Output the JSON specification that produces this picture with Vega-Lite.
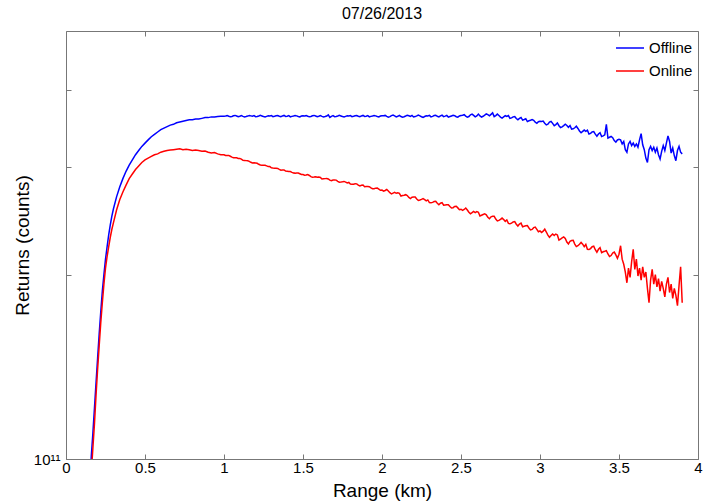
{
  "$schema": "https://vega.github.io/schema/vega-lite/v6.json",
  "width": 632,
  "height": 428,
  "autosize": "none",
  "padding": {"left": 66, "top": 31, "right": 5, "bottom": 45},
  "background": "white",
  "config": {
    "font": "Liberation Sans",
    "view": {"stroke": "#777777", "strokeWidth": 1},
    "axis": {"grid": false, "domain": false, "tickColor": "#777777", "labelColor": "#000000", "titleColor": "#000000", "labelFont": "Liberation Sans", "titleFont": "Liberation Sans"}
  },
  "title": {"text": "07/26/2013", "fontSize": 16, "fontWeight": "normal", "color": "#000000", "font": "Liberation Sans", "offset": 9},
  "data": {
    "values": [
      {"range": 0.15, "Offline": 0.90e11, "Online": 0.84e11},
      {"range": 0.16, "Offline": 1.01e11, "Online": 0.95e11},
      {"range": 0.17, "Offline": 1.10e11, "Online": 1.04e11},
      {"range": 0.18, "Offline": 1.21e11, "Online": 1.14e11},
      {"range": 0.19, "Offline": 1.33e11, "Online": 1.27e11},
      {"range": 0.20, "Offline": 1.46e11, "Online": 1.40e11},
      {"range": 0.21, "Offline": 1.60e11, "Online": 1.53e11},
      {"range": 0.22, "Offline": 1.74e11, "Online": 1.67e11},
      {"range": 0.23, "Offline": 1.88e11, "Online": 1.80e11},
      {"range": 0.24, "Offline": 2.00e11, "Online": 1.93e11},
      {"range": 0.25, "Offline": 2.12e11, "Online": 2.05e11},
      {"range": 0.26, "Offline": 2.22e11, "Online": 2.14e11},
      {"range": 0.27, "Offline": 2.32e11, "Online": 2.22e11},
      {"range": 0.28, "Offline": 2.41e11, "Online": 2.30e11},
      {"range": 0.29, "Offline": 2.49e11, "Online": 2.37e11},
      {"range": 0.30, "Offline": 2.56e11, "Online": 2.43e11},
      {"range": 0.32, "Offline": 2.68e11, "Online": 2.55e11},
      {"range": 0.34, "Offline": 2.78e11, "Online": 2.65e11},
      {"range": 0.36, "Offline": 2.87e11, "Online": 2.73e11},
      {"range": 0.38, "Offline": 2.95e11, "Online": 2.80e11},
      {"range": 0.40, "Offline": 3.02e11, "Online": 2.87e11},
      {"range": 0.42, "Offline": 3.08e11, "Online": 2.92e11},
      {"range": 0.44, "Offline": 3.14e11, "Online": 2.97e11},
      {"range": 0.46, "Offline": 3.19e11, "Online": 3.01e11},
      {"range": 0.48, "Offline": 3.24e11, "Online": 3.05e11},
      {"range": 0.50, "Offline": 3.28e11, "Online": 3.08e11},
      {"range": 0.52, "Offline": 3.32e11, "Online": 3.10e11},
      {"range": 0.54, "Offline": 3.36e11, "Online": 3.12e11},
      {"range": 0.56, "Offline": 3.39e11, "Online": 3.14e11},
      {"range": 0.58, "Offline": 3.42e11, "Online": 3.15e11},
      {"range": 0.60, "Offline": 3.45e11, "Online": 3.17e11},
      {"range": 0.62, "Offline": 3.47e11, "Online": 3.18e11},
      {"range": 0.64, "Offline": 3.49e11, "Online": 3.19e11},
      {"range": 0.66, "Offline": 3.51e11, "Online": 3.195e11},
      {"range": 0.68, "Offline": 3.52e11, "Online": 3.20e11},
      {"range": 0.70, "Offline": 3.54e11, "Online": 3.205e11},
      {"range": 0.72, "Offline": 3.55e11, "Online": 3.21e11},
      {"range": 0.74, "Offline": 3.56e11, "Online": 3.20e11},
      {"range": 0.76, "Offline": 3.57e11, "Online": 3.205e11},
      {"range": 0.78, "Offline": 3.58e11, "Online": 3.20e11},
      {"range": 0.80, "Offline": 3.58e11, "Online": 3.19e11},
      {"range": 0.82, "Offline": 3.59e11, "Online": 3.195e11},
      {"range": 0.84, "Offline": 3.59e11, "Online": 3.19e11},
      {"range": 0.86, "Offline": 3.60e11, "Online": 3.18e11},
      {"range": 0.88, "Offline": 3.61e11, "Online": 3.185e11},
      {"range": 0.90, "Offline": 3.61e11, "Online": 3.17e11},
      {"range": 0.92, "Offline": 3.62e11, "Online": 3.16e11},
      {"range": 0.94, "Offline": 3.62e11, "Online": 3.165e11},
      {"range": 0.96, "Offline": 3.625e11, "Online": 3.15e11},
      {"range": 0.98, "Offline": 3.63e11, "Online": 3.14e11},
      {"range": 1.00, "Offline": 3.63e11, "Online": 3.14e11},
      {"range": 1.01, "Offline": 3.633e11, "Online": 3.132e11},
      {"range": 1.02, "Offline": 3.637e11, "Online": 3.131e11},
      {"range": 1.03, "Offline": 3.628e11, "Online": 3.132e11},
      {"range": 1.04, "Offline": 3.621e11, "Online": 3.122e11},
      {"range": 1.05, "Offline": 3.626e11, "Online": 3.112e11},
      {"range": 1.06, "Offline": 3.636e11, "Online": 3.104e11},
      {"range": 1.07, "Offline": 3.640e11, "Online": 3.103e11},
      {"range": 1.08, "Offline": 3.632e11, "Online": 3.103e11},
      {"range": 1.09, "Offline": 3.623e11, "Online": 3.096e11},
      {"range": 1.10, "Offline": 3.629e11, "Online": 3.095e11},
      {"range": 1.11, "Offline": 3.638e11, "Online": 3.089e11},
      {"range": 1.12, "Offline": 3.627e11, "Online": 3.075e11},
      {"range": 1.13, "Offline": 3.620e11, "Online": 3.073e11},
      {"range": 1.14, "Offline": 3.625e11, "Online": 3.071e11},
      {"range": 1.15, "Offline": 3.631e11, "Online": 3.070e11},
      {"range": 1.16, "Offline": 3.639e11, "Online": 3.063e11},
      {"range": 1.17, "Offline": 3.634e11, "Online": 3.052e11},
      {"range": 1.18, "Offline": 3.628e11, "Online": 3.044e11},
      {"range": 1.19, "Offline": 3.637e11, "Online": 3.046e11},
      {"range": 1.20, "Offline": 3.622e11, "Online": 3.043e11},
      {"range": 1.21, "Offline": 3.626e11, "Online": 3.040e11},
      {"range": 1.22, "Offline": 3.632e11, "Online": 3.029e11},
      {"range": 1.23, "Offline": 3.641e11, "Online": 3.021e11},
      {"range": 1.24, "Offline": 3.633e11, "Online": 3.019e11},
      {"range": 1.25, "Offline": 3.625e11, "Online": 3.018e11},
      {"range": 1.26, "Offline": 3.619e11, "Online": 3.018e11},
      {"range": 1.27, "Offline": 3.627e11, "Online": 3.011e11},
      {"range": 1.28, "Offline": 3.634e11, "Online": 3.003e11},
      {"range": 1.29, "Offline": 3.631e11, "Online": 3.003e11},
      {"range": 1.30, "Offline": 3.638e11, "Online": 2.990e11},
      {"range": 1.31, "Offline": 3.623e11, "Online": 2.987e11},
      {"range": 1.32, "Offline": 3.628e11, "Online": 2.985e11},
      {"range": 1.33, "Offline": 3.636e11, "Online": 2.985e11},
      {"range": 1.34, "Offline": 3.639e11, "Online": 2.982e11},
      {"range": 1.35, "Offline": 3.629e11, "Online": 2.972e11},
      {"range": 1.36, "Offline": 3.622e11, "Online": 2.963e11},
      {"range": 1.37, "Offline": 3.633e11, "Online": 2.965e11},
      {"range": 1.38, "Offline": 3.640e11, "Online": 2.965e11},
      {"range": 1.39, "Offline": 3.626e11, "Online": 2.952e11},
      {"range": 1.40, "Offline": 3.630e11, "Online": 2.950e11},
      {"range": 1.41, "Offline": 3.637e11, "Online": 2.948e11},
      {"range": 1.42, "Offline": 3.621e11, "Online": 2.947e11},
      {"range": 1.43, "Offline": 3.627e11, "Online": 2.938e11},
      {"range": 1.44, "Offline": 3.632e11, "Online": 2.931e11},
      {"range": 1.45, "Offline": 3.638e11, "Online": 2.930e11},
      {"range": 1.46, "Offline": 3.634e11, "Online": 2.932e11},
      {"range": 1.47, "Offline": 3.625e11, "Online": 2.931e11},
      {"range": 1.48, "Offline": 3.620e11, "Online": 2.923e11},
      {"range": 1.49, "Offline": 3.631e11, "Online": 2.915e11},
      {"range": 1.50, "Offline": 3.636e11, "Online": 2.914e11},
      {"range": 1.51, "Offline": 3.633e11, "Online": 2.907e11},
      {"range": 1.52, "Offline": 3.637e11, "Online": 2.910e11},
      {"range": 1.53, "Offline": 3.628e11, "Online": 2.915e11},
      {"range": 1.54, "Offline": 3.621e11, "Online": 2.904e11},
      {"range": 1.55, "Offline": 3.626e11, "Online": 2.892e11},
      {"range": 1.56, "Offline": 3.636e11, "Online": 2.884e11},
      {"range": 1.57, "Offline": 3.640e11, "Online": 2.887e11},
      {"range": 1.58, "Offline": 3.632e11, "Online": 2.891e11},
      {"range": 1.59, "Offline": 3.623e11, "Online": 2.885e11},
      {"range": 1.60, "Offline": 3.629e11, "Online": 2.887e11},
      {"range": 1.61, "Offline": 3.638e11, "Online": 2.883e11},
      {"range": 1.62, "Offline": 3.627e11, "Online": 2.866e11},
      {"range": 1.63, "Offline": 3.620e11, "Online": 2.868e11},
      {"range": 1.64, "Offline": 3.625e11, "Online": 2.870e11},
      {"range": 1.65, "Offline": 3.631e11, "Online": 2.872e11},
      {"range": 1.66, "Offline": 3.648e11, "Online": 2.866e11},
      {"range": 1.67, "Offline": 3.612e11, "Online": 2.854e11},
      {"range": 1.68, "Offline": 3.628e11, "Online": 2.847e11},
      {"range": 1.69, "Offline": 3.637e11, "Online": 2.854e11},
      {"range": 1.70, "Offline": 3.622e11, "Online": 2.855e11},
      {"range": 1.71, "Offline": 3.626e11, "Online": 2.854e11},
      {"range": 1.72, "Offline": 3.632e11, "Online": 2.841e11},
      {"range": 1.73, "Offline": 3.641e11, "Online": 2.832e11},
      {"range": 1.74, "Offline": 3.633e11, "Online": 2.833e11},
      {"range": 1.75, "Offline": 3.625e11, "Online": 2.836e11},
      {"range": 1.76, "Offline": 3.619e11, "Online": 2.840e11},
      {"range": 1.77, "Offline": 3.627e11, "Online": 2.833e11},
      {"range": 1.78, "Offline": 3.634e11, "Online": 2.824e11},
      {"range": 1.79, "Offline": 3.631e11, "Online": 2.829e11},
      {"range": 1.80, "Offline": 3.638e11, "Online": 2.813e11},
      {"range": 1.81, "Offline": 3.623e11, "Online": 2.810e11},
      {"range": 1.82, "Offline": 3.628e11, "Online": 2.811e11},
      {"range": 1.83, "Offline": 3.636e11, "Online": 2.815e11},
      {"range": 1.84, "Offline": 3.639e11, "Online": 2.814e11},
      {"range": 1.85, "Offline": 3.629e11, "Online": 2.801e11},
      {"range": 1.86, "Offline": 3.622e11, "Online": 2.792e11},
      {"range": 1.87, "Offline": 3.633e11, "Online": 2.799e11},
      {"range": 1.88, "Offline": 3.640e11, "Online": 2.801e11},
      {"range": 1.89, "Offline": 3.626e11, "Online": 2.784e11},
      {"range": 1.90, "Offline": 3.630e11, "Online": 2.785e11},
      {"range": 1.91, "Offline": 3.637e11, "Online": 2.785e11},
      {"range": 1.92, "Offline": 3.621e11, "Online": 2.784e11},
      {"range": 1.93, "Offline": 3.627e11, "Online": 2.772e11},
      {"range": 1.94, "Offline": 3.632e11, "Online": 2.763e11},
      {"range": 1.95, "Offline": 3.638e11, "Online": 2.763e11},
      {"range": 1.96, "Offline": 3.634e11, "Online": 2.769e11},
      {"range": 1.97, "Offline": 3.625e11, "Online": 2.770e11},
      {"range": 1.98, "Offline": 3.620e11, "Online": 2.759e11},
      {"range": 1.99, "Offline": 3.631e11, "Online": 2.747e11},
      {"range": 2.00, "Offline": 3.636e11, "Online": 2.749e11},
      {"range": 2.01, "Offline": 3.635e11, "Online": 2.739e11},
      {"range": 2.02, "Offline": 3.640e11, "Online": 2.745e11},
      {"range": 2.03, "Offline": 3.627e11, "Online": 2.755e11},
      {"range": 2.04, "Offline": 3.617e11, "Online": 2.739e11},
      {"range": 2.05, "Offline": 3.624e11, "Online": 2.722e11},
      {"range": 2.06, "Offline": 3.638e11, "Online": 2.709e11},
      {"range": 2.07, "Offline": 3.644e11, "Online": 2.717e11},
      {"range": 2.08, "Offline": 3.633e11, "Online": 2.725e11},
      {"range": 2.09, "Offline": 3.620e11, "Online": 2.716e11},
      {"range": 2.10, "Offline": 3.628e11, "Online": 2.722e11},
      {"range": 2.11, "Offline": 3.641e11, "Online": 2.716e11},
      {"range": 2.12, "Offline": 3.625e11, "Online": 2.688e11},
      {"range": 2.13, "Offline": 3.616e11, "Online": 2.693e11},
      {"range": 2.14, "Offline": 3.622e11, "Online": 2.697e11},
      {"range": 2.15, "Offline": 3.632e11, "Online": 2.702e11},
      {"range": 2.16, "Offline": 3.643e11, "Online": 2.693e11},
      {"range": 2.17, "Offline": 3.636e11, "Online": 2.674e11},
      {"range": 2.18, "Offline": 3.627e11, "Online": 2.663e11},
      {"range": 2.19, "Offline": 3.640e11, "Online": 2.676e11},
      {"range": 2.20, "Offline": 3.619e11, "Online": 2.679e11},
      {"range": 2.21, "Offline": 3.624e11, "Online": 2.678e11},
      {"range": 2.22, "Offline": 3.633e11, "Online": 2.658e11},
      {"range": 2.23, "Offline": 3.646e11, "Online": 2.644e11},
      {"range": 2.24, "Offline": 3.635e11, "Online": 2.648e11},
      {"range": 2.25, "Offline": 3.622e11, "Online": 2.654e11},
      {"range": 2.26, "Offline": 3.614e11, "Online": 2.663e11},
      {"range": 2.27, "Offline": 3.625e11, "Online": 2.652e11},
      {"range": 2.28, "Offline": 3.636e11, "Online": 2.639e11},
      {"range": 2.29, "Offline": 3.632e11, "Online": 2.649e11},
      {"range": 2.30, "Offline": 3.641e11, "Online": 2.623e11},
      {"range": 2.31, "Offline": 3.620e11, "Online": 2.621e11},
      {"range": 2.32, "Offline": 3.627e11, "Online": 2.625e11},
      {"range": 2.33, "Offline": 3.638e11, "Online": 2.633e11},
      {"range": 2.34, "Offline": 3.643e11, "Online": 2.635e11},
      {"range": 2.35, "Offline": 3.628e11, "Online": 2.616e11},
      {"range": 2.36, "Offline": 3.619e11, "Online": 2.602e11},
      {"range": 2.37, "Offline": 3.635e11, "Online": 2.616e11},
      {"range": 2.38, "Offline": 3.644e11, "Online": 2.622e11},
      {"range": 2.39, "Offline": 3.624e11, "Online": 2.597e11},
      {"range": 2.40, "Offline": 3.630e11, "Online": 2.600e11},
      {"range": 2.41, "Offline": 3.640e11, "Online": 2.601e11},
      {"range": 2.42, "Offline": 3.617e11, "Online": 2.602e11},
      {"range": 2.43, "Offline": 3.625e11, "Online": 2.585e11},
      {"range": 2.44, "Offline": 3.633e11, "Online": 2.570e11},
      {"range": 2.45, "Offline": 3.641e11, "Online": 2.573e11},
      {"range": 2.46, "Offline": 3.636e11, "Online": 2.585e11},
      {"range": 2.47, "Offline": 3.622e11, "Online": 2.587e11},
      {"range": 2.48, "Offline": 3.616e11, "Online": 2.571e11},
      {"range": 2.49, "Offline": 3.632e11, "Online": 2.554e11},
      {"range": 2.50, "Offline": 3.638e11, "Online": 2.558e11},
      {"range": 2.51, "Offline": 3.643e11, "Online": 2.547e11},
      {"range": 2.52, "Offline": 3.650e11, "Online": 2.556e11},
      {"range": 2.53, "Offline": 3.630e11, "Online": 2.570e11},
      {"range": 2.54, "Offline": 3.615e11, "Online": 2.551e11},
      {"range": 2.55, "Offline": 3.625e11, "Online": 2.529e11},
      {"range": 2.56, "Offline": 3.648e11, "Online": 2.514e11},
      {"range": 2.57, "Offline": 3.658e11, "Online": 2.525e11},
      {"range": 2.58, "Offline": 3.640e11, "Online": 2.537e11},
      {"range": 2.59, "Offline": 3.620e11, "Online": 2.526e11},
      {"range": 2.60, "Offline": 3.633e11, "Online": 2.535e11},
      {"range": 2.61, "Offline": 3.658e11, "Online": 2.529e11},
      {"range": 2.62, "Offline": 3.633e11, "Online": 2.494e11},
      {"range": 2.63, "Offline": 3.618e11, "Online": 2.501e11},
      {"range": 2.64, "Offline": 3.628e11, "Online": 2.508e11},
      {"range": 2.65, "Offline": 3.643e11, "Online": 2.515e11},
      {"range": 2.66, "Offline": 3.660e11, "Online": 2.505e11},
      {"range": 2.67, "Offline": 3.650e11, "Online": 2.481e11},
      {"range": 2.68, "Offline": 3.635e11, "Online": 2.468e11},
      {"range": 2.69, "Offline": 3.655e11, "Online": 2.486e11},
      {"range": 2.70, "Offline": 3.675e11, "Online": 2.491e11},
      {"range": 2.71, "Offline": 3.624e11, "Online": 2.491e11},
      {"range": 2.72, "Offline": 3.638e11, "Online": 2.465e11},
      {"range": 2.73, "Offline": 3.658e11, "Online": 2.448e11},
      {"range": 2.74, "Offline": 3.638e11, "Online": 2.453e11},
      {"range": 2.75, "Offline": 3.618e11, "Online": 2.462e11},
      {"range": 2.76, "Offline": 3.604e11, "Online": 2.474e11},
      {"range": 2.77, "Offline": 3.620e11, "Online": 2.461e11},
      {"range": 2.78, "Offline": 3.636e11, "Online": 2.444e11},
      {"range": 2.79, "Offline": 3.626e11, "Online": 2.457e11},
      {"range": 2.80, "Offline": 3.638e11, "Online": 2.425e11},
      {"range": 2.81, "Offline": 3.600e11, "Online": 2.423e11},
      {"range": 2.82, "Offline": 3.606e11, "Online": 2.428e11},
      {"range": 2.83, "Offline": 3.620e11, "Online": 2.439e11},
      {"range": 2.84, "Offline": 3.624e11, "Online": 2.442e11},
      {"range": 2.85, "Offline": 3.597e11, "Online": 2.418e11},
      {"range": 2.86, "Offline": 3.580e11, "Online": 2.401e11},
      {"range": 2.87, "Offline": 3.600e11, "Online": 2.419e11},
      {"range": 2.88, "Offline": 3.612e11, "Online": 2.428e11},
      {"range": 2.89, "Offline": 3.577e11, "Online": 2.395e11},
      {"range": 2.90, "Offline": 3.585e11, "Online": 2.400e11},
      {"range": 2.91, "Offline": 3.595e11, "Online": 2.403e11},
      {"range": 2.92, "Offline": 3.557e11, "Online": 2.405e11},
      {"range": 2.93, "Offline": 3.567e11, "Online": 2.384e11},
      {"range": 2.94, "Offline": 3.575e11, "Online": 2.366e11},
      {"range": 2.95, "Offline": 3.584e11, "Online": 2.371e11},
      {"range": 2.96, "Offline": 3.573e11, "Online": 2.387e11},
      {"range": 2.97, "Offline": 3.548e11, "Online": 2.392e11},
      {"range": 2.98, "Offline": 3.534e11, "Online": 2.372e11},
      {"range": 2.99, "Offline": 3.555e11, "Online": 2.351e11},
      {"range": 3.00, "Offline": 3.562e11, "Online": 2.358e11},
      {"range": 3.01, "Offline": 3.557e11, "Online": 2.344e11},
      {"range": 3.02, "Offline": 3.564e11, "Online": 2.356e11},
      {"range": 3.03, "Offline": 3.534e11, "Online": 2.373e11},
      {"range": 3.04, "Offline": 3.512e11, "Online": 2.348e11},
      {"range": 3.05, "Offline": 3.522e11, "Online": 2.321e11},
      {"range": 3.06, "Offline": 3.549e11, "Online": 2.302e11},
      {"range": 3.07, "Offline": 3.559e11, "Online": 2.317e11},
      {"range": 3.08, "Offline": 3.533e11, "Online": 2.331e11},
      {"range": 3.09, "Offline": 3.503e11, "Online": 2.318e11},
      {"range": 3.10, "Offline": 3.517e11, "Online": 2.330e11},
      {"range": 3.11, "Offline": 3.539e11, "Online": 2.322e11},
      {"range": 3.12, "Offline": 3.502e11, "Online": 2.278e11},
      {"range": 3.13, "Offline": 3.478e11, "Online": 2.287e11},
      {"range": 3.14, "Offline": 3.487e11, "Online": 2.296e11},
      {"range": 3.15, "Offline": 3.503e11, "Online": 2.305e11},
      {"range": 3.16, "Offline": 3.522e11, "Online": 2.291e11},
      {"range": 3.17, "Offline": 3.505e11, "Online": 2.261e11},
      {"range": 3.18, "Offline": 3.481e11, "Online": 2.245e11},
      {"range": 3.19, "Offline": 3.504e11, "Online": 2.268e11},
      {"range": 3.20, "Offline": 3.457e11, "Online": 2.274e11},
      {"range": 3.21, "Offline": 3.461e11, "Online": 2.276e11},
      {"range": 3.22, "Offline": 3.475e11, "Online": 2.244e11},
      {"range": 3.23, "Offline": 3.495e11, "Online": 2.223e11},
      {"range": 3.24, "Offline": 3.466e11, "Online": 2.230e11},
      {"range": 3.25, "Offline": 3.433e11, "Online": 2.243e11},
      {"range": 3.26, "Offline": 3.411e11, "Online": 2.258e11},
      {"range": 3.27, "Offline": 3.428e11, "Online": 2.243e11},
      {"range": 3.28, "Offline": 3.445e11, "Online": 2.222e11},
      {"range": 3.29, "Offline": 3.429e11, "Online": 2.241e11},
      {"range": 3.30, "Offline": 3.443e11, "Online": 2.200e11},
      {"range": 3.31, "Offline": 3.395e11, "Online": 2.199e11},
      {"range": 3.32, "Offline": 3.403e11, "Online": 2.206e11},
      {"range": 3.33, "Offline": 3.422e11, "Online": 2.222e11},
      {"range": 3.34, "Offline": 3.426e11, "Online": 2.226e11},
      {"range": 3.35, "Offline": 3.392e11, "Online": 2.197e11},
      {"range": 3.36, "Offline": 3.367e11, "Online": 2.176e11},
      {"range": 3.37, "Offline": 3.395e11, "Online": 2.200e11},
      {"range": 3.38, "Offline": 3.410e11, "Online": 2.213e11},
      {"range": 3.39, "Offline": 3.362e11, "Online": 2.173e11},
      {"range": 3.40, "Offline": 3.370e11, "Online": 2.180e11},
      {"range": 3.41, "Offline": 3.384e11, "Online": 2.184e11},
      {"range": 3.42, "Offline": 3.520e11, "Online": 2.189e11},
      {"range": 3.43, "Offline": 3.342e11, "Online": 2.162e11},
      {"range": 3.44, "Offline": 3.353e11, "Online": 2.142e11},
      {"range": 3.45, "Offline": 3.363e11, "Online": 2.149e11},
      {"range": 3.46, "Offline": 3.347e11, "Online": 2.170e11},
      {"range": 3.47, "Offline": 3.311e11, "Online": 2.177e11},
      {"range": 3.48, "Offline": 3.292e11, "Online": 2.154e11},
      {"range": 3.49, "Offline": 3.319e11, "Online": 2.127e11},
      {"range": 3.50, "Offline": 3.327e11, "Online": 2.160e11},
      {"range": 3.51, "Offline": 3.32e11, "Online": 2.23e11},
      {"range": 3.52, "Offline": 3.27e11, "Online": 2.12e11},
      {"range": 3.53, "Offline": 3.30e11, "Online": 2.08e11},
      {"range": 3.54, "Offline": 3.20e11, "Online": 2.02e11},
      {"range": 3.55, "Offline": 3.17e11, "Online": 1.94e11},
      {"range": 3.56, "Offline": 3.27e11, "Online": 2.05e11},
      {"range": 3.57, "Offline": 3.30e11, "Online": 1.98e11},
      {"range": 3.58, "Offline": 3.25e11, "Online": 2.10e11},
      {"range": 3.59, "Offline": 3.28e11, "Online": 2.20e11},
      {"range": 3.60, "Offline": 3.24e11, "Online": 2.04e11},
      {"range": 3.61, "Offline": 3.27e11, "Online": 2.12e11},
      {"range": 3.62, "Offline": 3.23e11, "Online": 1.99e11},
      {"range": 3.63, "Offline": 3.32e11, "Online": 2.05e11},
      {"range": 3.64, "Offline": 3.40e11, "Online": 1.96e11},
      {"range": 3.65, "Offline": 3.26e11, "Online": 2.06e11},
      {"range": 3.66, "Offline": 3.20e11, "Online": 1.98e11},
      {"range": 3.67, "Offline": 3.10e11, "Online": 2.02e11},
      {"range": 3.68, "Offline": 3.05e11, "Online": 1.90e11},
      {"range": 3.69, "Offline": 3.20e11, "Online": 1.80e11},
      {"range": 3.70, "Offline": 3.24e11, "Online": 1.96e11},
      {"range": 3.71, "Offline": 3.19e11, "Online": 2.04e11},
      {"range": 3.72, "Offline": 3.23e11, "Online": 1.93e11},
      {"range": 3.73, "Offline": 3.17e11, "Online": 2.00e11},
      {"range": 3.74, "Offline": 3.22e11, "Online": 1.91e11},
      {"range": 3.75, "Offline": 3.14e11, "Online": 1.97e11},
      {"range": 3.76, "Offline": 3.09e11, "Online": 1.88e11},
      {"range": 3.77, "Offline": 3.18e11, "Online": 1.95e11},
      {"range": 3.78, "Offline": 3.25e11, "Online": 1.90e11},
      {"range": 3.79, "Offline": 3.19e11, "Online": 1.84e11},
      {"range": 3.80, "Offline": 3.28e11, "Online": 1.93e11},
      {"range": 3.81, "Offline": 3.37e11, "Online": 1.98e11},
      {"range": 3.82, "Offline": 3.30e11, "Online": 1.87e11},
      {"range": 3.83, "Offline": 3.16e11, "Online": 1.93e11},
      {"range": 3.84, "Offline": 3.22e11, "Online": 1.83e11},
      {"range": 3.85, "Offline": 3.13e11, "Online": 1.90e11},
      {"range": 3.86, "Offline": 3.07e11, "Online": 1.85e11},
      {"range": 3.87, "Offline": 3.19e11, "Online": 1.78e11},
      {"range": 3.88, "Offline": 3.24e11, "Online": 1.92e11},
      {"range": 3.89, "Offline": 3.17e11, "Online": 2.06e11},
      {"range": 3.90, "Offline": 3.15e11, "Online": 1.80e11}
    ]
  },
  "transform": [{"fold": ["Offline", "Online"], "as": ["series", "returns"]}],
  "layer": [
    {
      "mark": {"type": "line", "strokeWidth": 1.5, "clip": true, "interpolate": "linear"},
      "encoding": {
        "x": {
          "field": "range", "type": "quantitative",
          "scale": {"domain": [0, 4], "nice": false, "zero": false},
          "axis": {"orient": "bottom", "values": [0, 0.5, 1, 1.5, 2, 2.5, 3, 3.5, 4], "format": "~g", "tickSize": -5, "labelFontSize": 15, "labelPadding": 6, "title": "Range (km)", "titleFontSize": 19, "titleFontWeight": "normal", "titleY": 31, "titleBaseline": "middle", "labelFlush": false}
        },
        "y": {
          "field": "returns", "type": "quantitative",
          "scale": {"type": "log", "domain": [1e11, 5e11], "nice": false},
          "axis": {"orient": "left", "values": [1e11, 2e11, 3e11, 4e11], "labelExpr": "datum.value == 1e11 ? '10¹¹' : ''", "tickSize": -5, "labelFontSize": 15, "labelPadding": 11, "labelFlush": false, "title": "Returns (counts)", "titleFontSize": 19, "titleFontWeight": "normal", "titleX": -44, "titleY": 214, "titleAngle": -90, "titleAlign": "center", "titleBaseline": "middle"}
        },
        "color": {
          "field": "series", "type": "nominal",
          "scale": {"domain": ["Offline", "Online"], "range": ["#0000ff", "#ff0000"]},
          "legend": {"orient": "none", "legendX": 549, "legendY": 2, "title": null, "symbolType": "stroke", "symbolSize": 784, "symbolStrokeWidth": 1.5, "labelFontSize": 15, "labelColor": "#000000", "labelOffset": 4, "rowPadding": -2, "padding": 0}
        }
      }
    },
    {
      "mark": {"type": "line", "opacity": 0},
      "encoding": {
        "x": {
          "field": "range", "type": "quantitative",
          "axis": {"orient": "top", "values": [0, 0.5, 1, 1.5, 2, 2.5, 3, 3.5, 4], "labels": false, "tickSize": -5, "title": null}
        },
        "y": {
          "field": "returns", "type": "quantitative",
          "axis": {"orient": "right", "values": [1e11, 2e11, 3e11, 4e11], "labels": false, "tickSize": -5, "title": null}
        },
        "detail": {"field": "series"}
      }
    }
  ],
  "resolve": {"axis": {"x": "independent", "y": "independent"}}
}
